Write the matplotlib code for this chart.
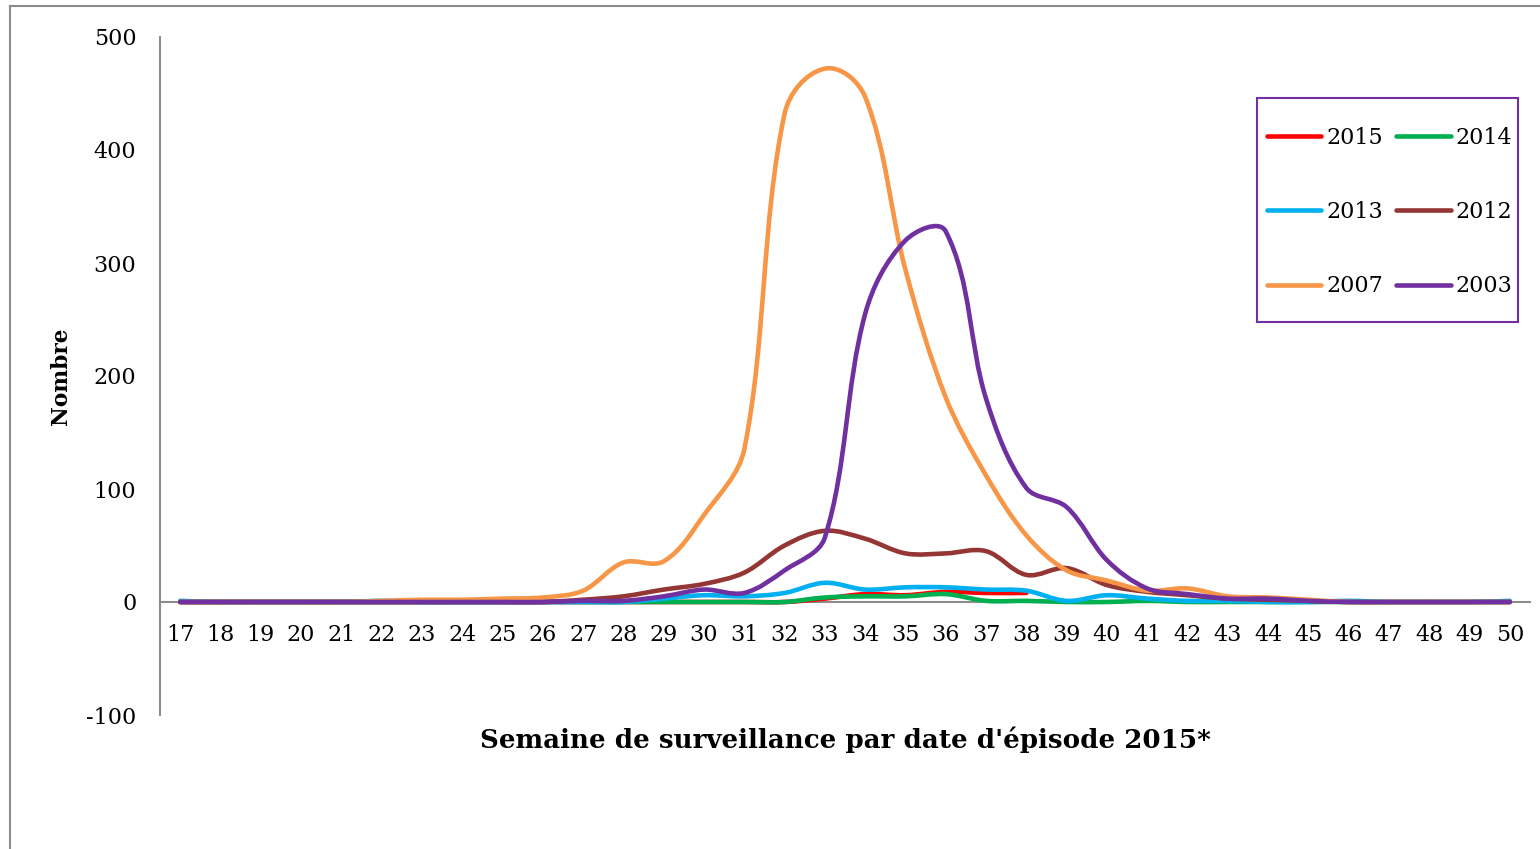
import numpy as np
import matplotlib
matplotlib.use("Agg")
import matplotlib.pyplot as plt
from matplotlib.path import Path
from matplotlib.patches import PathPatch, Rectangle
from matplotlib.lines import Line2D

# weeks of surveillance
weeks = list(range(17, 51))

# weekly counts (None = no data yet)
s2015 = [0, 0, 0, 0, 0, 0, 0, 0, 0, 0, 0, 0, 0, 0, 0, 0, 3, 7, 6, 9, 8, 8] + [None] * 12
s2014 = [0, 0, 0, 0, 0, 0, 0, 0, 0, 0, 0, 0, 0, 0, 0, 0, 4, 5, 5, 7, 1, 1,
         0, 0, 1, 0, 0, 0, 0, 0, 0, 0, 0, 0]
s2013 = [1, 0, 0, 0, 0, 1, 0, 0, 0, 0, 0, 0, 3, 6, 5, 8, 17, 11, 13, 13, 11, 10,
         1, 6, 3, 1, 1, 0, 0, 1, 0, 0, 0, 1]
s2012 = [0, 0, 0, 0, 0, 0, 0, 0, 0, 0, 2, 5, 11, 16, 26, 50, 63, 56, 43, 43, 45, 24,
         30, 15, 9, 6, 3, 2, 1, 0, 0, 0, 0, 0]
s2007 = [0, 0, 0, 0, 0, 1, 2, 2, 3, 4, 10, 35, 36, 77, 135, 432, 472, 447, 294, 181, 112, 59,
         28, 19, 10, 12, 5, 4, 2, 0, 0, 0, 0, 0]
s2003 = [0, 0, 0, 0, 0, 0, 0, 0, 0, 0, 1, 1, 5, 11, 8, 28, 57, 255, 320, 328, 180, 101,
         84, 37, 12, 7, 3, 3, 1, 0, 0, 0, 0, 0]

years = ["2015", "2014", "2013", "2012", "2007", "2003"]
series = [s2015, s2014, s2013, s2012, s2007, s2003]
colors = ["#FF0000", "#00B050", "#00B0F0", "#943634", "#F79646", "#7030A0"]


def smooth_path(ax, x, y):
    # smoothed line like the spreadsheet: Bezier segments, handles along the
    # neighbour direction, sized by the segment length on screen
    pts = np.array([(a, b) for a, b in zip(x, y) if b is not None], dtype=float)
    d = ax.transData.transform(pts)
    n = len(d)
    verts = [d[0]]
    codes = [Path.MOVETO]
    for i in range(n - 1):
        a, b = d[i], d[i + 1]
        prev = d[i - 1] if i > 0 else a
        nxt = d[i + 2] if i + 2 < n else b
        seg = np.linalg.norm(b - a)
        t1 = b - prev
        t1 = t1 / np.linalg.norm(t1)
        t2 = nxt - a
        t2 = t2 / np.linalg.norm(t2)
        verts += [a + t1 * seg / 3.0, b - t2 * seg / 3.0, b]
        codes += [Path.CURVE4] * 3
    verts = ax.transData.inverted().transform(np.array(verts))
    return Path(verts, codes)


plt.rcParams["font.family"] = ["DejaVu Serif"]
plt.rcParams["axes.unicode_minus"] = False

fig = plt.figure(figsize=(15.4, 8.49), dpi=100)
W, H = 1540, 849
ax = fig.add_axes([160 / W, 1 - 715 / H, 1370 / W, 678 / H])

ax.set_xlim(16.5, 50.5)
ax.set_ylim(-100, 500)
ax.set_xticks(weeks)
ax.set_xticklabels([str(w) for w in weeks])
ax.set_yticks(range(-100, 501, 100))

for yr, s, c in zip(years, series, colors):
    patch = PathPatch(smooth_path(ax, weeks, s), facecolor="none", edgecolor=c,
                      lw=3.3, capstyle="round", joinstyle="round", zorder=3)
    ax.add_patch(patch)

for side in ["top", "right"]:
    ax.spines[side].set_visible(False)
ax.spines["bottom"].set_position(("data", 0))
ax.spines["left"].set_color("#8c8c8c")
ax.spines["bottom"].set_color("#8c8c8c")
ax.spines["left"].set_linewidth(1.5)
ax.spines["bottom"].set_linewidth(1.5)
ax.tick_params(axis="x", length=0, pad=16, labelsize=16)
ax.tick_params(axis="y", length=0, pad=17, labelsize=16)

fig.text(845 / W, 1 - 740 / H, "Semaine de surveillance par date d'épisode 2015*",
         ha="center", va="center", fontsize=18.8, fontweight="bold")
fig.text(61 / W, 1 - 376 / H, "Nombre", ha="center", va="center",
         rotation=90, fontsize=15.6, fontweight="bold")

# legend filled row by row: 2015 2014 / 2013 2012 / 2007 2003
order = [0, 2, 4, 1, 3, 5]
handles = [Line2D([], [], color=colors[i], lw=3.3, solid_capstyle="round") for i in order]
labels = [years[i] for i in order]
leg = fig.legend(handles, labels, ncol=2, loc="upper left",
                 bbox_to_anchor=(1267 / W, 1 - 127 / H), fontsize=16,
                 frameon=False, handlelength=2.45, handletextpad=0.22,
                 columnspacing=0.6, labelspacing=2.35, borderpad=0,
                 borderaxespad=0)
fig.add_artist(Rectangle((1257 / W, 1 - 322 / H), 261 / W, 224 / H,
                         transform=fig.transFigure, fill=False,
                         edgecolor="#7030A0", lw=1.5))

# outer chart-area border
fig.add_artist(Line2D([10 / W, 10 / W], [0, 1 - 6 / H], color="#8c8c8c", lw=1.5))
fig.add_artist(Line2D([10 / W, 1], [1 - 6 / H, 1 - 6 / H], color="#8c8c8c", lw=1.5))

fig.savefig("out.png", dpi=100)
